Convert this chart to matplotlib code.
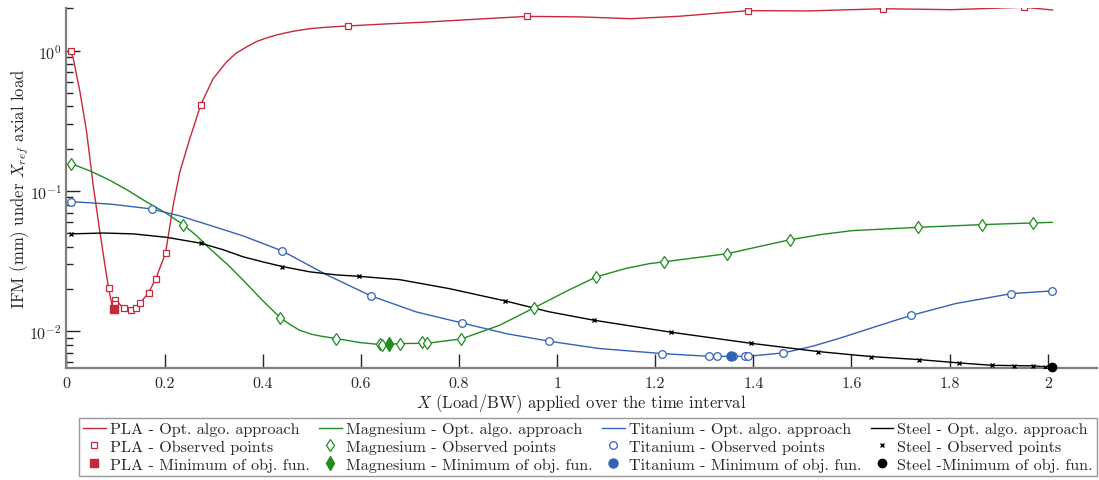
import matplotlib
matplotlib.use("Agg")
import matplotlib.pyplot as plt
from matplotlib.ticker import FuncFormatter, LogLocator

plt.rcParams["font.family"] = "serif"
plt.rcParams["font.serif"] = ["cmr10"]
plt.rcParams["mathtext.fontset"] = "cm"
plt.rcParams["axes.unicode_minus"] = False
plt.rcParams["axes.formatter.use_mathtext"] = True

# ---- PLA ----
pla_curve_x = [0.0085, 0.0139, 0.0275, 0.041, 0.0545, 0.068, 0.0784, 0.0859, 0.093, 0.0973,
               0.1, 0.106, 0.1164, 0.1313, 0.1415, 0.1496, 0.1673, 0.1822, 0.2019, 0.2174,
               0.231, 0.2514, 0.2738, 0.2988, 0.326, 0.345, 0.3668, 0.387, 0.4075, 0.43,
               0.4616, 0.4956, 0.53, 0.573, 0.65, 0.735, 0.84, 0.939, 1.05, 1.15, 1.25, 1.39,
               1.513, 1.665, 1.804, 1.951, 2.010]
pla_curve_y = [0.995, 0.877, 0.508, 0.264, 0.1096, 0.0511, 0.0295, 0.0202, 0.0152, 0.0143,
               0.0152, 0.0159, 0.01456, 0.0141, 0.01473, 0.0158, 0.0188, 0.0237, 0.0361, 0.0789,
               0.1365, 0.236, 0.412, 0.631, 0.830, 0.955, 1.062, 1.16, 1.232, 1.30,
               1.374, 1.435, 1.47, 1.50, 1.55, 1.60, 1.68, 1.756, 1.74, 1.69, 1.76, 1.93,
               1.92, 1.99, 1.96, 2.04, 1.95]
pla_obs_x = [0.0085, 0.0859, 0.0987, 0.0987, 0.1164, 0.1313, 0.1415, 0.1496, 0.1673, 0.1822,
             0.2019, 0.2738, 0.573, 0.939, 1.39, 1.665, 1.951]
pla_obs_y = [0.995, 0.0202, 0.0168, 0.0157, 0.01456, 0.0141, 0.01473, 0.0158, 0.0188, 0.0237,
             0.0361, 0.412, 1.50, 1.756, 1.93, 1.99, 2.04]
pla_min = (0.0973, 0.0143)

# ---- Magnesium ----
mg_curve_x = [0.0092, 0.05, 0.0885, 0.125, 0.163, 0.2, 0.2378, 0.265, 0.292, 0.33, 0.36, 0.40,
              0.436, 0.455, 0.475, 0.50, 0.52, 0.55, 0.5974, 0.6436, 0.679, 0.735, 0.805,
              0.8825, 0.953, 1.018, 1.08, 1.14, 1.188, 1.217, 1.347, 1.41, 1.474, 1.54,
              1.6015, 1.736, 1.865, 1.969, 2.009]
mg_curve_y = [0.1566, 0.138, 0.119, 0.101, 0.0835, 0.0705, 0.0575, 0.048, 0.0388, 0.0295,
              0.0231, 0.0165, 0.01244, 0.0112, 0.01015, 0.0095, 0.0092, 0.00886, 0.0083,
              0.0080, 0.00816, 0.0082, 0.00881, 0.01101, 0.01466, 0.0192, 0.0244, 0.0280,
              0.0303, 0.0312, 0.0357, 0.0400, 0.0448, 0.0490, 0.0521, 0.0550, 0.0575, 0.0591,
              0.0597]
mg_obs_x = [0.0092, 0.2378, 0.436, 0.550, 0.638, 0.6436, 0.679, 0.724, 0.735, 0.805, 0.953,
            1.080, 1.217, 1.347, 1.474, 1.736, 1.865, 1.969]
mg_obs_y = [0.1566, 0.0575, 0.01244, 0.00886, 0.00806, 0.0080, 0.00816, 0.0084, 0.0082, 0.00881,
            0.01466, 0.0244, 0.0312, 0.0357, 0.0448, 0.0550, 0.0575, 0.0591]
mg_min = (0.6564, 0.00807)

# ---- Titanium ----
ti_curve_x = [0.0085, 0.09, 0.1734, 0.23, 0.292, 0.36, 0.44, 0.5296, 0.6204, 0.7128, 0.8054,
              0.896, 0.984, 1.086, 1.188, 1.2135, 1.31, 1.389, 1.461, 1.52, 1.574, 1.65, 1.722,
              1.812, 1.926, 2.009]
ti_curve_y = [0.0839, 0.0805, 0.0744, 0.0665, 0.0569, 0.0478, 0.0373, 0.0253, 0.01786, 0.01372,
              0.01146, 0.00961, 0.00848, 0.00752, 0.00704, 0.00692, 0.00662, 0.00662, 0.0070,
              0.0078, 0.00886, 0.0108, 0.01297, 0.01573, 0.01853, 0.01938]
ti_obs_x = [0.0085, 0.1734, 0.440, 0.6204, 0.8054, 0.984, 1.2135, 1.310, 1.3255, 1.359, 1.383,
            1.3886, 1.461, 1.722, 1.926, 2.009]
ti_obs_y = [0.0839, 0.0744, 0.0373, 0.01786, 0.01146, 0.00848, 0.00692, 0.00662, 0.00662,
            0.00662, 0.00662, 0.00662, 0.0070, 0.01297, 0.01853, 0.01938]
ti_min = (1.354, 0.00662)

# ---- Steel ----
st_curve_x = [0.0092, 0.075, 0.136, 0.204, 0.275, 0.32, 0.36, 0.40, 0.44, 0.4956, 0.55, 0.5968,
              0.679, 0.7806, 0.894, 0.984, 1.075, 1.233, 1.3947, 1.5317, 1.640, 1.738, 1.819,
              1.886, 1.931, 1.970, 1.995, 2.009]
st_curve_y = [0.0494, 0.0501, 0.0494, 0.0467, 0.0423, 0.038, 0.0339, 0.0312, 0.0289, 0.0265,
              0.0252, 0.0246, 0.0233, 0.0201, 0.01644, 0.01374, 0.01197, 0.00982, 0.0082,
              0.00716, 0.00659, 0.00627, 0.00594, 0.00571, 0.00568, 0.00566, 0.00557, 0.00553]
st_obs_x = [0.0092, 0.275, 0.44, 0.5968, 0.894, 1.075, 1.233, 1.3947, 1.5317, 1.640, 1.738,
            1.819, 1.886, 1.931, 1.970, 1.995]
st_obs_y = [0.0494, 0.0423, 0.0289, 0.0246, 0.01644, 0.01197, 0.00982, 0.0082, 0.00716,
            0.00659, 0.00627, 0.00594, 0.00571, 0.00568, 0.00566, 0.00557]
st_min = (2.009, 0.00553)

c_pla = "#c8283c"
c_mg = "#1f8c1f"
c_ti = "#3462b8"
c_st = "#000000"

fig = plt.figure(figsize=(10.99, 4.81), dpi=100)
ax = fig.add_axes([0.0605, 0.233, 0.9375, 0.748])

handles = []
#materials: (name, curve, observed, min, color, marker)
series = [
    ("PLA", pla_curve_x, pla_curve_y, pla_obs_x, pla_obs_y, pla_min, c_pla, "s", 5, "s", 5.5),
    ("Magnesium", mg_curve_x, mg_curve_y, mg_obs_x, mg_obs_y, mg_min, c_mg, "d", 6.5, "d", 7),
    ("Titanium", ti_curve_x, ti_curve_y, ti_obs_x, ti_obs_y, ti_min, c_ti, "o", 5.5, "o", 6.5),
    ("Steel", st_curve_x, st_curve_y, st_obs_x, st_obs_y, st_min, c_st, "x", 3.5, "o", 6),
]
for name, cx, cy, ox, oy, mn, col, mk, ms, mmk, mms in series:
    l1, = ax.plot(cx, cy, color=col, lw=1.0, label=name + " - Opt. algo. approach", zorder=2)
    if mk == "x":
        l2, = ax.plot(ox, oy, ls="none", marker=mk, ms=ms, mew=1.0, color=col,
                      label=name + " - Observed points", zorder=3)
    else:
        l2, = ax.plot(ox, oy, ls="none", marker=mk, ms=ms, mfc="white", mec=col, mew=0.9,
                      label=name + " - Observed points", zorder=3)
    lab = name + " - Minimum of obj. fun." if name != "Steel" else "Steel -Minimum of obj. fun."
    l3, = ax.plot([mn[0]], [mn[1]], ls="none", marker=mmk, ms=mms, color=col, mec=col,
                  label=lab, zorder=4, clip_on=False)
    handles += [l1, l2, l3]

ax.set_yscale("log")
ax.set_xlim(0, 2.1)
ax.set_ylim(0.00547, 2.01)
ax.set_xticks([0, 0.2, 0.4, 0.6, 0.8, 1, 1.2, 1.4, 1.6, 1.8, 2])
ax.xaxis.set_major_formatter(FuncFormatter(lambda v, p: "%g" % v))
ax.yaxis.set_major_locator(LogLocator(base=10, numticks=10))
ax.yaxis.set_minor_locator(LogLocator(base=10, subs=range(2, 10), numticks=10))

for s in ["top", "right"]:
    ax.spines[s].set_visible(False)
for s in ["left", "bottom"]:
    ax.spines[s].set_color("#7f7f7f")
    ax.spines[s].set_linewidth(1.6)
ax.tick_params(axis="both", which="major", direction="in", length=10, width=1.0,
               color="#262626", labelsize=11.5, labelcolor="#262626")
ax.tick_params(axis="y", which="minor", direction="in", length=5, width=1.0, color="#262626")
ax.tick_params(axis="x", pad=6)

ax.set_xlabel("$X$ (Load/BW) applied over the time interval", fontsize=12, color="#262626",
              labelpad=1)
ax.set_ylabel("IFM (mm) under $X_{ref}$ axial load", fontsize=12, color="#262626", labelpad=-1)

leg = fig.legend(handles=handles, loc="upper left", ncol=4,
                 bbox_to_anchor=(79 / 1099, 1 - 419 / 481), fontsize=11.6, frameon=True,
                 fancybox=False, edgecolor="#7f7f7f", handlelength=1.4, handletextpad=0.25,
                 labelspacing=0.22, borderaxespad=0.0, borderpad=0.25, columnspacing=0.6)
leg.get_frame().set_linewidth(1.0)
for t in leg.get_texts():
    t.set_color("#262626")

fig.savefig("out.png", dpi=100)
